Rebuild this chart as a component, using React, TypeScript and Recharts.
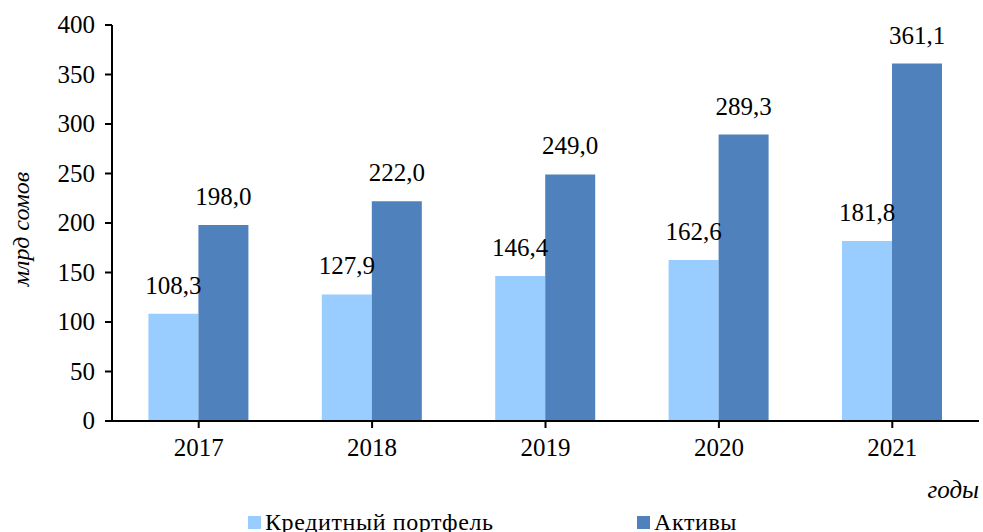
import { Bar, BarChart, LabelList, Legend, XAxis, YAxis } from 'recharts';

const years = ['2017', '2018', '2019', '2020', '2021'];
const loans = [108.3, 127.9, 146.4, 162.6, 181.8];
const assets = [198.0, 222.0, 249.0, 289.3, 361.1];
const yTicks = [0, 50, 100, 150, 200, 250, 300, 350, 400];

const data = years.map((year, i) => ({ year, loans: loans[i], assets: assets[i] }));

const FONT = '"Liberation Serif", "Times New Roman", serif';
const fmt = (v: unknown) => Number(v).toFixed(1).replace('.', ',');

function YTick(props: any) {
  const { x, y, payload } = props;
  return (
    <text x={x - 8} y={y} dy={8} textAnchor="end" fill="#000" stroke="none" fontSize={25} fontFamily={FONT}>
      {payload.value}
    </text>
  );
}

function XTick(props: any) {
  const { x, y, payload } = props;
  return (
    <text x={x} y={y} dy={26} textAnchor="middle" fill="#000" stroke="none" fontSize={25} fontFamily={FONT}>
      {payload.value}
    </text>
  );
}

function BarValue(props: any) {
  const { x, y, width, value } = props;
  return (
    <text x={x + width / 2} y={y - 20} textAnchor="middle" fill="#000" stroke="none" fontSize={25} fontFamily={FONT}>
      {fmt(value)}
    </text>
  );
}

function LegendContent() {
  const items = [
    { name: 'Кредитный портфель', color: '#99CCFF', x: 248 },
    { name: 'Активы', color: '#4F81BD', x: 637 },
  ];
  return (
    <div style={{ position: 'relative', width: 983, height: 30, fontFamily: FONT, fontSize: 24 }}>
      {items.map((it) => (
        <div key={it.name} style={{ position: 'absolute', left: it.x, top: 0, display: 'flex', alignItems: 'center', whiteSpace: 'nowrap' }}>
          <span style={{ width: 13, height: 13, background: it.color, marginRight: 4, display: 'inline-block' }} />
          <span style={{ letterSpacing: 0.6 }}>{it.name}</span>
        </div>
      ))}
    </div>
  );
}

export default function App() {
  return (
    <div style={{ position: 'absolute', left: 0, top: 0, width: 983, height: 532, background: '#fff', overflow: 'hidden', fontFamily: FONT }}>
      <BarChart
        width={983}
        height={532}
        data={data}
        margin={{ top: 25, right: 4, bottom: 71, left: 0 }}
        barCategoryGap="21%"
        barGap={0}
      >
        <XAxis
          dataKey="year"
          height={40}
          stroke="#000"
          strokeWidth={2}
          tickSize={7}
          tick={<XTick />}
          label={{ value: 'годы', position: 'insideBottomRight', offset: 0, dy: 37, fill: '#000', fontSize: 25, fontStyle: 'italic', fontFamily: FONT }}
        />
        <YAxis
          width={112}
          domain={[0, 400]}
          ticks={yTicks}
          interval={0}
          stroke="#000"
          strokeWidth={2}
          tickSize={7}
          tick={<YTick />}
          label={{ value: 'млрд сомов', angle: -90, position: 'insideLeft', offset: 20, dy: 6, fill: '#000', fontSize: 24, fontStyle: 'italic', fontFamily: FONT, style: { textAnchor: 'middle' } }}
        />
        <Legend
          verticalAlign="middle"
          align="center"
          content={<LegendContent />}
          wrapperStyle={{ position: 'absolute', left: 0, top: 509, width: 983 }}
        />
        <Bar dataKey="loans" name="Кредитный портфель" fill="#99CCFF" isAnimationActive={false}>
          <LabelList dataKey="loans" content={<BarValue />} />
        </Bar>
        <Bar dataKey="assets" name="Активы" fill="#4F81BD" isAnimationActive={false}>
          <LabelList dataKey="assets" content={<BarValue />} />
        </Bar>
      </BarChart>
    </div>
  );
}
